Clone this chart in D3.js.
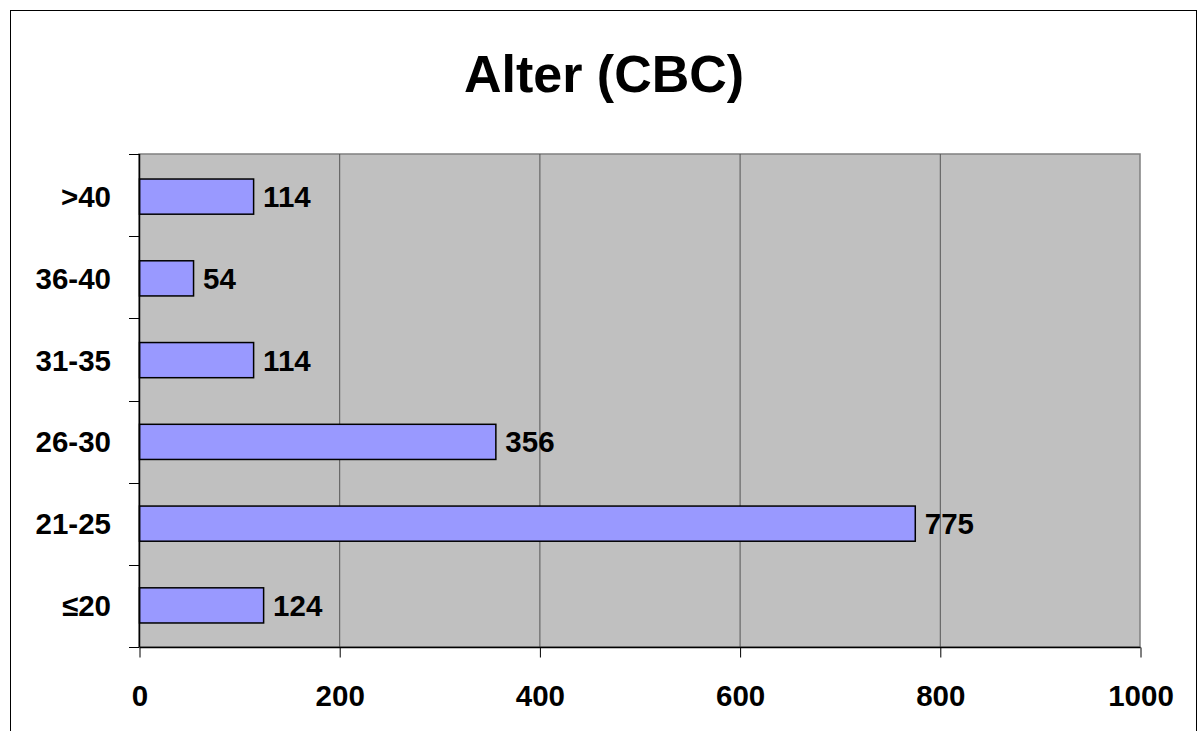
<!DOCTYPE html>
<html>
<head>
<meta charset="utf-8">
<script src="https://cdn.jsdelivr.net/npm/d3@7/dist/d3.min.js"></script>
<style>
  html, body { margin: 0; padding: 0; background: #fff; }
  svg { display: block; }
  text { font-family: "Liberation Sans", Arial, sans-serif; font-weight: bold; fill: #000; }
</style>
</head>
<body>
<svg id="chart" width="1198" height="731"></svg>
<script>
// Age groups (bottom to top) and counts
const categories = ["≤20", "21-25", "26-30", "31-35", "36-40", ">40"];
const counts = [124, 775, 356, 114, 54, 114];
const xTicks = [0, 200, 400, 600, 800, 1000];
const title = "Alter (CBC)";

const svg = d3.select("#chart");
const labelSize = "29.5px";

// Outer frame
svg.append("rect")
  .attr("x", 10.5).attr("y", 10.5)
  .attr("width", 1186).attr("height", 740)
  .attr("fill", "#fff").attr("stroke", "#000").attr("stroke-width", 1);

// Title
svg.append("text")
  .attr("x", 604).attr("y", 92)
  .attr("text-anchor", "middle")
  .style("font-size", "52px")
  .text(title);

const plot = { left: 139, top: 154, right: 1140, bottom: 647 };

const x = d3.scaleLinear().domain([0, 1000]).range([plot.left, plot.right]);
const y = d3.scaleBand()
  .domain(categories.slice().reverse())
  .range([plot.top, plot.bottom])
  .paddingInner(0.57).paddingOuter(0.3);

// Plot background
svg.append("rect")
  .attr("x", plot.left).attr("y", plot.top)
  .attr("width", plot.right - plot.left).attr("height", plot.bottom - plot.top)
  .attr("fill", "#c0c0c0")
  .attr("stroke", "#808080").attr("stroke-width", 1.5);

// Vertical gridlines
svg.append("g")
  .selectAll("line")
  .data(xTicks.filter(d => d > 0 && d < 1000))
  .join("line")
  .attr("x1", d => x(d) + 0.5).attr("x2", d => x(d) + 0.5)
  .attr("y1", plot.top).attr("y2", plot.bottom)
  .attr("stroke", "#555").attr("stroke-width", 1);

const rows = categories.map((c, i) => ({ c, v: counts[i] }));

// Bars
svg.append("g")
  .selectAll("rect")
  .data(rows)
  .join("rect")
  .attr("x", x(0) + 0.5)
  .attr("y", d => y(d.c) + 0.5)
  .attr("width", d => x(d.v) - x(0))
  .attr("height", y.bandwidth())
  .attr("fill", "#9999ff")
  .attr("stroke", "#000").attr("stroke-width", 1.5);

// Value labels
svg.append("g")
  .selectAll("text")
  .data(rows)
  .join("text")
  .attr("x", d => x(d.v) + 10)
  .attr("y", d => y(d.c) + y.bandwidth() / 2 + 11)
  .style("font-size", labelSize)
  .text(d => d.v);

// Bottom axis
const xAxis = d3.axisBottom(x).tickValues(xTicks).tickSize(10)
  .tickFormat(d3.format("d"));
const gx = svg.append("g")
  .attr("transform", `translate(0.5,${plot.bottom + 0.5})`)
  .call(xAxis);
gx.select(".domain").attr("stroke", "#000").attr("stroke-width", 1.5)
  .attr("d", `M${plot.left},0H${plot.right}`);
gx.selectAll(".tick line").attr("stroke", "#000");
gx.selectAll(".tick text")
  .attr("y", 58).attr("dy", null)
  .style("font-size", labelSize)
  .style("font-family", "'Liberation Sans', Arial, sans-serif")
  .style("font-weight", "bold");

// Left axis: ticks sit at category boundaries
const yEdges = d3.range(categories.length + 1)
  .map(i => plot.top + i * (plot.bottom - plot.top) / categories.length);
const gy = svg.append("g");
gy.append("line")
  .attr("x1", plot.left + 0.5).attr("x2", plot.left + 0.5)
  .attr("y1", plot.top).attr("y2", plot.bottom)
  .attr("stroke", "#000").attr("stroke-width", 1.5);
gy.selectAll("line.tick")
  .data(yEdges)
  .join("line")
  .attr("class", "tick")
  .attr("x1", plot.left - 10).attr("x2", plot.left)
  .attr("y1", d => Math.round(d) + 0.5).attr("y2", d => Math.round(d) + 0.5)
  .attr("stroke", "#000");
gy.selectAll("text")
  .data(categories)
  .join("text")
  .attr("x", 111)
  .attr("y", d => y(d) + y.bandwidth() / 2 + 11)
  .attr("text-anchor", "end")
  .style("font-size", labelSize)
  .text(d => d);
</script>
</body>
</html>
